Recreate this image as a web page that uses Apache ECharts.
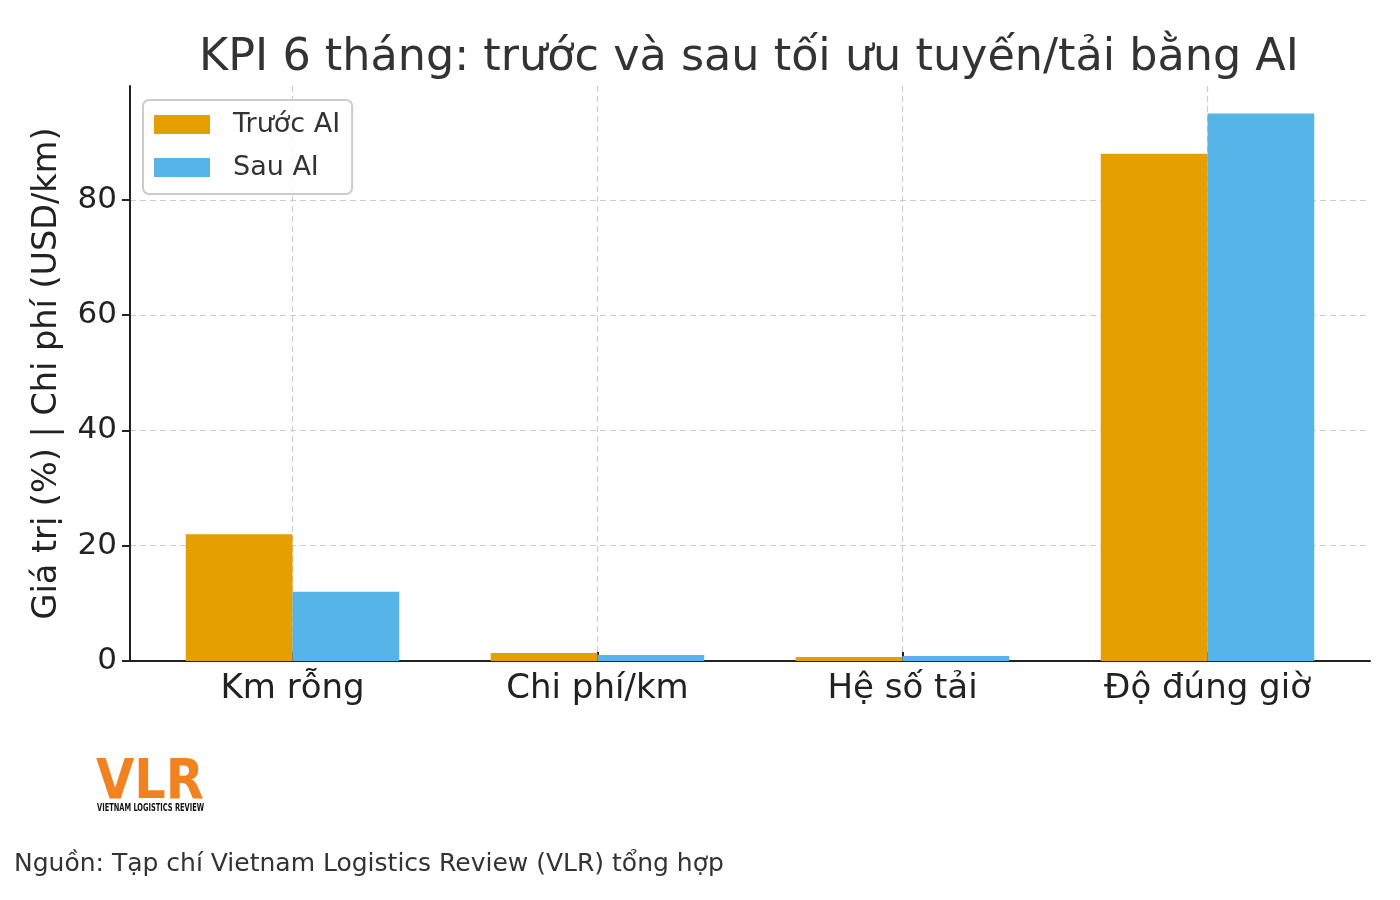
<!DOCTYPE html>
<html>
<head>
<meta charset="utf-8">
<script src="https://cdn.jsdelivr.net/npm/echarts@6/dist/echarts.min.js"></script>
<style>
html,body{margin:0;padding:0;background:#fff;}
#chart{width:1400px;height:900px;}
</style>
</head>
<body>
<div id="chart"></div>
<script>
const categories = ['Km rỗng', 'Chi phí/km', 'Hệ số tải', 'Độ đúng giờ'];
const truocAI = [22, 1.4, 0.7, 88];
const sauAI = [12, 1.05, 0.85, 95];
const seriesNames = ['Trước AI', 'Sau AI'];
const yMax = 99.75;

const FONT = 'DejaVu Sans';
const chart = echarts.init(document.getElementById('chart'), null, {renderer: 'canvas'});

const gridTop = 86, gridBottom = 239;

chart.setOption({
  animation: false,
  backgroundColor: '#ffffff',
  textStyle: {fontFamily: FONT},
  title: {
    text: 'KPI 6 tháng: trước và sau tối ưu tuyến/tải bằng AI',
    left: 744,
    textAlign: 'center',
    top: 31,
    textStyle: {fontFamily: FONT, fontSize: 44.5, fontWeight: 'normal', color: '#333333'}
  },
  legend: {
    orient: 'vertical',
    left: 143,
    top: 100,
    padding: [11, 12, 13, 11],
    itemWidth: 56,
    itemHeight: 19,
    itemGap: 16,
    icon: 'rect',
    borderColor: '#cccccc',
    borderWidth: 2,
    borderRadius: 6,
    backgroundColor: 'rgba(255,255,255,0.8)',
    textStyle: {fontFamily: FONT, fontSize: 27, color: '#333333', padding: [0, 0, 0, 18]},
    data: seriesNames
  },
  grid: [
    {left: 130, right: 30, top: gridTop, bottom: gridBottom, containLabel: false},
    {left: 140, right: 40, top: gridTop, bottom: gridBottom, containLabel: false}
  ],
  xAxis: [
    {
      gridIndex: 0, type: 'value', min: 0, max: 1,
      axisLine: {show: true, lineStyle: {color: '#222222', width: 2}},
      axisTick: {show: false}, axisLabel: {show: false}, splitLine: {show: false}
    },
    {
      gridIndex: 1, type: 'category', data: categories,
      axisLine: {show: false},
      axisTick: {show: true, alignWithLabel: true, inside: true, length: 9, lineStyle: {color: '#222222', width: 2}},
      axisLabel: {fontFamily: FONT, fontSize: 34, color: '#222222', margin: 11},
      splitLine: {show: true, alignWithLabel: true, lineStyle: {color: '#cccccc', type: [6, 4], width: 1.2}}
    }
  ],
  yAxis: [
    {
      gridIndex: 0, type: 'value', min: 0, max: yMax, interval: 20,
      name: 'Giá trị (%) | Chi phí (USD/km)',
      nameLocation: 'middle', nameGap: 66, nameRotate: 90,
      nameTextStyle: {fontFamily: FONT, fontSize: 33.5, color: '#222222'},
      axisLine: {show: true, lineStyle: {color: '#222222', width: 2}},
      axisTick: {show: true, length: 8, lineStyle: {color: '#222222', width: 2}},
      axisLabel: {fontFamily: FONT, fontSize: 31, color: '#222222', margin: 13, showMaxLabel: false},
      splitLine: {show: true, showMaxLine: false, showMinLine: false, lineStyle: {color: '#cccccc', type: [6, 4], width: 1.2}}
    },
    {
      gridIndex: 1, type: 'value', min: 0, max: yMax, show: false, splitLine: {show: false}
    }
  ],
  series: [
    {
      name: seriesNames[0], type: 'bar', xAxisIndex: 1, yAxisIndex: 1,
      data: truocAI, barWidth: '35%', barGap: '0%',
      itemStyle: {color: '#E69F00'}
    },
    {
      name: seriesNames[1], type: 'bar', xAxisIndex: 1, yAxisIndex: 1,
      data: sauAI, barWidth: '35%', barGap: '0%',
      itemStyle: {color: '#56B4E9'}
    }
  ],
  graphic: [
    {
      type: 'text', x: 96, y: 756, z: 10,
      style: {text: 'VLR', fill: '#F2821F', font: 'bold 55px "DejaVu Sans Condensed", "Liberation Sans Narrow", sans-serif', verticalAlign: 'top'}
    },
    {
      type: 'text', x: 97, y: 803, z: 10, scaleX: 0.74,
      style: {text: 'VIETNAM LOGISTICS REVIEW', fill: '#111111', font: 'bold 10px "Liberation Sans Narrow", "DejaVu Sans Condensed", sans-serif', verticalAlign: 'top'}
    },
    {
      type: 'text', x: 14, y: 864, z: 10,
      style: {text: 'Nguồn: Tạp chí Vietnam Logistics Review (VLR) tổng hợp', fill: '#333333', font: '25px "DejaVu Sans"', verticalAlign: 'middle'}
    }
  ]
});
</script>
</body>
</html>
